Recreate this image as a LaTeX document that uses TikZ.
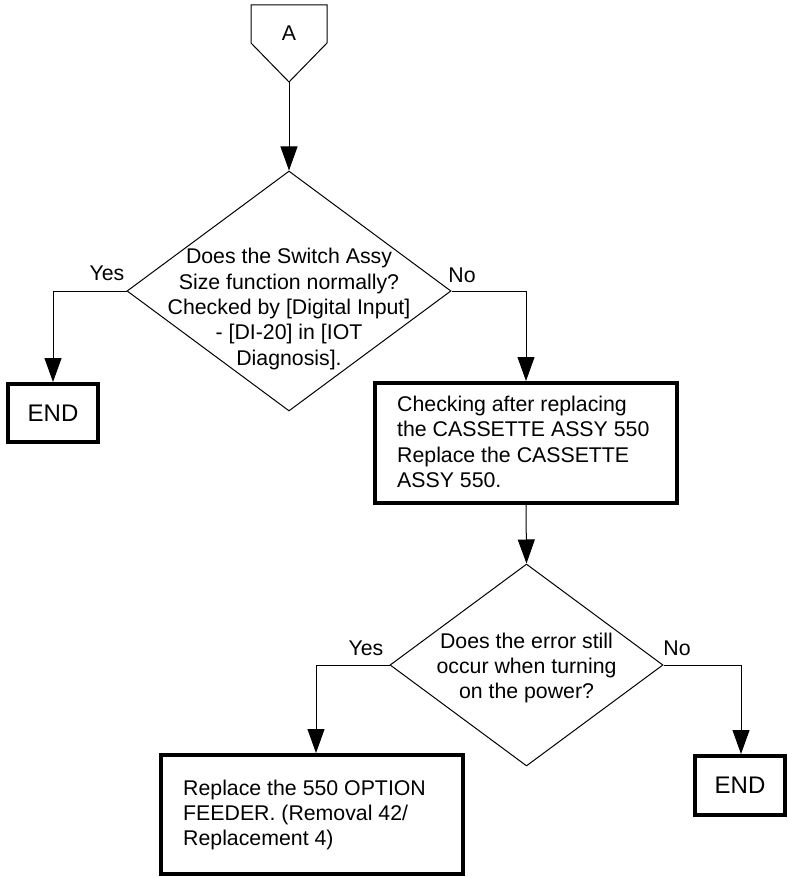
\documentclass[tikz,border=0pt]{standalone}
\usepackage{fontspec}
\setmainfont{Liberation Sans}
\usetikzlibrary{shapes.geometric,arrows.meta}
\begin{document}
\begin{tikzpicture}[x=1pt,y=-1pt,
  every node/.style={font=\fontsize{21.3}{25.4}\selectfont, inner sep=0pt},
  thin line/.style={line width=1pt},
  arr/.style={thin line, -{Triangle[width=17pt,length=24pt]}},
  decision/.style={diamond, draw, thin line, inner sep=0pt},
  endbox/.style={rectangle, draw, line width=4pt, minimum width=90pt, minimum height=58pt, font=\fontsize{24}{28}\selectfont},
  procbox/.style={rectangle, draw, line width=4pt, minimum width=302pt, minimum height=120pt},
  lbl/.style={anchor=center}
]
\useasboundingbox (0,0) rectangle (787,877);

% off-page connector A
\draw[thin line] (251,5) -- (327,5) -- (327,43) -- (289,82) -- (251,43) -- cycle;
\coordinate (Atip) at (289,82);
\node (Alabel) at (289,33) {A};

% decision 1
\node[decision, minimum width=324pt, minimum height=240pt] (d1) at (289,291) {};
\node[align=center] (d1t) at (289,309) {Does the Switch Assy\\Size function normally?\\Checked by [Digital Input]\\- [DI-20] in [IOT\\Diagnosis].};

\node[endbox] (end1) at (53,413) {END};

\node[procbox] (box2) at (526,443) {};
\node[align=left, anchor=west] (box2t) at (397,442) {Checking after replacing\\the CASSETTE ASSY 550\\Replace the CASSETTE\\ASSY 550.};

% decision 2
\node[decision, minimum width=273pt, minimum height=202pt] (d2) at (526.5,665) {};
\node[align=center] (d2t) at (526.5,668) {Does the error still\\occur when turning\\on the power?};

\node[procbox, minimum height=119pt] (box3) at (312,814.5) {};
\node[align=left, anchor=west] (box3t) at (183,815) {Replace the 550 OPTION\\FEEDER. (Removal 42/\\Replacement 4)};

\node[endbox, minimum height=59pt] (end2) at (740,785.5) {END};

% labels
\node[lbl] (y1) at (107,273) {Yes};
\node[lbl] (n1) at (462,275) {No};
\node[lbl] (y2) at (366,648) {Yes};
\node[lbl] (n2) at (677,648) {No};

% connectors
\draw[arr] (Atip) -- (d1.north);
\draw[arr] (d1.west) -| (end1.north);
\draw[arr] (d1.east) -| (box2.north);
\draw[arr] (box2.south) -- (d2.north);
\draw[arr] (d2.west) -| ([xshift=4pt]box3.north);
\draw[arr] (d2.east) -| ([xshift=1pt]end2.north);
\end{tikzpicture}
\end{document}
